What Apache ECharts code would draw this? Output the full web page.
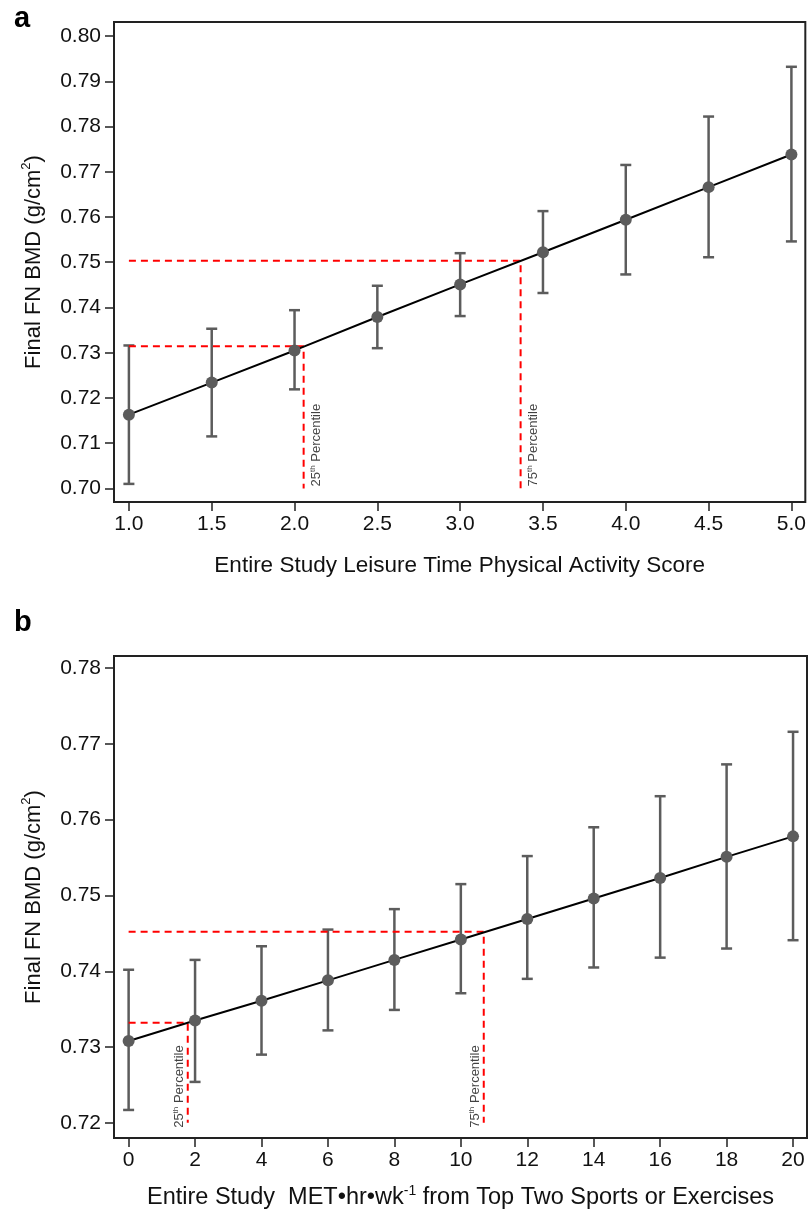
<!DOCTYPE html>
<html>
<head>
<meta charset="utf-8">
<script src="https://cdn.jsdelivr.net/npm/echarts@6/dist/echarts.min.js"></script>
<style>
html,body{margin:0;padding:0;background:#fff;}
#chart{width:809px;height:1213px;}
</style>
</head>
<body>
<div id="chart"></div>
<script>
// ---------- Panel a data ----------
const xA = [1.0, 1.5, 2.0, 2.5, 3.0, 3.5, 4.0, 4.5, 5.0];
const meanA = [0.7163, 0.7234, 0.7305, 0.7379, 0.7451, 0.7522, 0.7594, 0.7666, 0.7738];
const lowA  = [0.7010, 0.7115, 0.7219, 0.7310, 0.7381, 0.7432, 0.7473, 0.7511, 0.7546];
const highA = [0.7316, 0.7353, 0.7394, 0.7448, 0.7520, 0.7613, 0.7715, 0.7822, 0.7932];
const yTicksA = [0.70, 0.71, 0.72, 0.73, 0.74, 0.75, 0.76, 0.77, 0.78, 0.79, 0.80];
const pctXA = [2.055, 3.365];
const pctYA = [0.7314, 0.7503];

// ---------- Panel b data ----------
const xB = [0, 2, 4, 6, 8, 10, 12, 14, 16, 18, 20];
const meanB = [0.7308, 0.7335, 0.7361, 0.7388, 0.7415, 0.7442, 0.7469, 0.7496, 0.7523, 0.7551, 0.7578];
const lowB  = [0.7217, 0.7254, 0.7290, 0.7322, 0.7349, 0.7371, 0.7390, 0.7405, 0.7418, 0.7430, 0.7441];
const highB = [0.7402, 0.7415, 0.7433, 0.7455, 0.7482, 0.7515, 0.7552, 0.7590, 0.7631, 0.7673, 0.7716];
const yTicksB = [0.72, 0.73, 0.74, 0.75, 0.76, 0.77, 0.78];
const pctXB = [1.78, 10.69];
const pctYB = [0.7332, 0.7452];

const pctNames = ['25', '75'];

const FONT = "'Liberation Sans', Arial, Helvetica, sans-serif";
const GRAY = '#5c5c5c';

const chart = echarts.init(document.getElementById('chart'), null, {renderer: 'canvas'});

function errBarSeries(idx, xs, lo, hi) {
  return {
    type: 'custom', xAxisIndex: idx, yAxisIndex: idx, z: 3,
    data: xs.map((x, i) => [x, lo[i], hi[i]]),
    renderItem: function (params, api) {
      const x = api.value(0);
      const p1 = api.coord([x, api.value(1)]);
      const p2 = api.coord([x, api.value(2)]);
      const w = 5.5;
      const st = {stroke: GRAY, lineWidth: 2.5};
      return {
        type: 'group',
        children: [
          {type: 'line', shape: {x1: p1[0], y1: p1[1], x2: p2[0], y2: p2[1]}, style: st},
          {type: 'line', shape: {x1: p1[0] - w, y1: p1[1], x2: p1[0] + w, y2: p1[1]}, style: st},
          {type: 'line', shape: {x1: p2[0] - w, y1: p2[1], x2: p2[0] + w, y2: p2[1]}, style: st}
        ]
      };
    }
  };
}

function pctLineSeries(idx, x0, yMin, px, py) {
  return {
    type: 'line', xAxisIndex: idx, yAxisIndex: idx, z: 4,
    symbol: 'none', silent: true, animation: false,
    data: [[x0, py], [px, py], [px, yMin]],
    lineStyle: {color: '#ff0000', width: 2, type: [7, 5]}
  };
}

function pctLabelSeries(idx, yMin, px, name, offset) {
  return {
    type: 'scatter', xAxisIndex: idx, yAxisIndex: idx, z: 6,
    symbolSize: 0, silent: true,
    data: [[px, yMin]],
    label: {
      show: true, position: 'inside', rotate: 90, align: 'left', verticalAlign: 'middle',
      offset: offset,
      formatter: '{n|' + name + '}{s|th}{n| Percentile}',
      rich: {
        n: {fontSize: 13, fontFamily: FONT, color: '#111', lineHeight: 15, verticalAlign: 'middle'},
        s: {fontSize: 8, fontFamily: FONT, color: '#111', lineHeight: 15, verticalAlign: 'top'}
      }
    }
  };
}

function fitSeries(idx, xs, ys) {
  return {
    type: 'line', xAxisIndex: idx, yAxisIndex: idx, z: 5,
    symbol: 'none', data: xs.map((x, i) => [x, ys[i]]),
    lineStyle: {color: '#000', width: 2}
  };
}
function dotSeries(idx, xs, ys) {
  return {
    type: 'scatter', xAxisIndex: idx, yAxisIndex: idx, z: 7,
    symbolSize: 12, itemStyle: {color: GRAY, opacity: 1},
    data: xs.map((x, i) => [x, ys[i]])
  };
}

const tickStyle = {show: true, inside: false, length: 9, lineStyle: {color: '#222', width: 1.5}};
const labelBase = {fontSize: 21, fontFamily: FONT, color: '#111'};
const nameRich = {
  a: {fontSize: 22, fontFamily: FONT, color: '#111', lineHeight: 28, verticalAlign: 'middle'},
  s: {fontSize: 13, fontFamily: FONT, color: '#111', lineHeight: 28, verticalAlign: 'top'}
};
const nameRichB = {
  a: {fontSize: 23.5, fontFamily: FONT, color: '#111', lineHeight: 28, verticalAlign: 'middle'},
  s: {fontSize: 14, fontFamily: FONT, color: '#111', lineHeight: 28, verticalAlign: 'top'}
};

const option = {
  animation: false,
  backgroundColor: '#fff',
  title: [
    {text: 'a', left: 9, top: -1, textStyle: {fontSize: 29, fontWeight: 'bold', fontFamily: FONT, color: '#000'}},
    {text: 'b', left: 9, top: 603, textStyle: {fontSize: 29, fontWeight: 'bold', fontFamily: FONT, color: '#000'}}
  ],
  grid: [
    {left: 114, top: 22, width: 693, height: 480, show: true, borderColor: '#222', borderWidth: 2, backgroundColor: 'transparent'},
    {left: 114, top: 656, width: 693, height: 482, show: true, borderColor: '#222', borderWidth: 2, backgroundColor: 'transparent'}
  ],
  xAxis: [
    {
      gridIndex: 0, type: 'value', min: 0.91, max: 5.084,
      axisLine: {show: false, onZero: false}, splitLine: {show: false},
      axisTick: Object.assign({customValues: xA}, tickStyle),
      axisLabel: Object.assign({customValues: xA, margin: 12, formatter: v => v.toFixed(1)}, labelBase),
      name: 'Entire Study Leisure Time Physical Activity Score',
      nameLocation: 'middle', nameGap: 52,
      nameTextStyle: {fontSize: 22.5, fontFamily: FONT, color: '#111'}
    },
    {
      gridIndex: 1, type: 'value', min: -0.44, max: 20.42,
      axisLine: {show: false, onZero: false}, splitLine: {show: false},
      axisTick: Object.assign({customValues: xB}, tickStyle),
      axisLabel: Object.assign({customValues: xB, margin: 12, formatter: v => String(Math.round(v))}, labelBase),
      name: '{a|Entire Study  MET•hr•wk}{s|-1}{a| from Top Two Sports or Exercises}',
      nameLocation: 'middle', nameGap: 46,
      nameTextStyle: {fontSize: 23.5, fontFamily: FONT, color: '#111', rich: nameRichB}
    }
  ],
  yAxis: [
    {
      gridIndex: 0, type: 'value', min: 0.697, max: 0.8031,
      axisLine: {show: false, onZero: false}, splitLine: {show: false},
      axisTick: Object.assign({customValues: yTicksA}, tickStyle),
      axisLabel: Object.assign({customValues: yTicksA, margin: 13, formatter: v => v.toFixed(2)}, labelBase),
      name: '{a|Final FN BMD (g/cm}{s|2}{a|)}',
      nameLocation: 'middle', nameGap: 66, nameRotate: 90,
      nameTextStyle: {fontSize: 22, fontFamily: FONT, color: '#111', rich: nameRich}
    },
    {
      gridIndex: 1, type: 'value', min: 0.718, max: 0.7816,
      axisLine: {show: false, onZero: false}, splitLine: {show: false},
      axisTick: Object.assign({customValues: yTicksB}, tickStyle),
      axisLabel: Object.assign({customValues: yTicksB, margin: 13, formatter: v => v.toFixed(2)}, labelBase),
      name: '{a|Final FN BMD (g/cm}{s|2}{a|)}',
      nameLocation: 'middle', nameGap: 66, nameRotate: 90,
      nameTextStyle: {fontSize: 22, fontFamily: FONT, color: '#111', rich: nameRich}
    }
  ],
  series: [
    pctLineSeries(0, xA[0], yTicksA[0], pctXA[0], pctYA[0]),
    pctLineSeries(0, xA[0], yTicksA[0], pctXA[1], pctYA[1]),
    errBarSeries(0, xA, lowA, highA),
    fitSeries(0, xA, meanA),
    dotSeries(0, xA, meanA),
    pctLabelSeries(0, yTicksA[0], pctXA[0], pctNames[0], [2, 13]),
    pctLabelSeries(0, yTicksA[0], pctXA[1], pctNames[1], [2, 13]),

    pctLineSeries(1, xB[0], yTicksB[0], pctXB[0], pctYB[0]),
    pctLineSeries(1, xB[0], yTicksB[0], pctXB[1], pctYB[1]),
    errBarSeries(1, xB, lowB, highB),
    fitSeries(1, xB, meanB),
    dotSeries(1, xB, meanB),
    pctLabelSeries(1, yTicksB[0], pctXB[0], pctNames[0], [-5, -8]),
    pctLabelSeries(1, yTicksB[0], pctXB[1], pctNames[1], [-5, -8])
  ]
};
chart.setOption(option);
</script>
</body>
</html>
